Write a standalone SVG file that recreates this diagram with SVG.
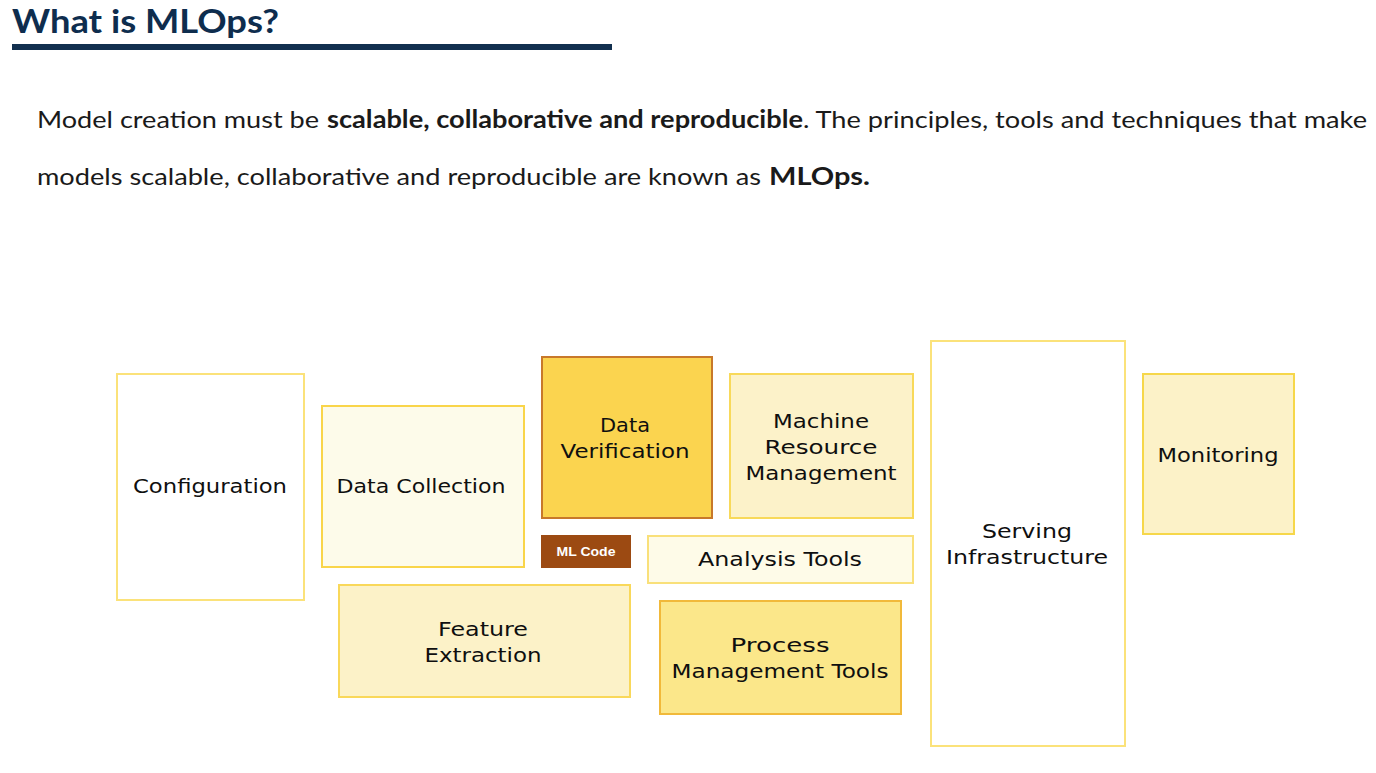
<svg xmlns="http://www.w3.org/2000/svg" width="1376" height="773" viewBox="0 0 1376 773">
<style>
.t{font-family:"DejaVu Sans","Liberation Sans",sans-serif;font-size:20px;fill:#0f0f0f;text-anchor:middle}
.p{font-family:Lato,"Open Sans",sans-serif;font-size:24px;fill:#1a1a1a}
.b{font-weight:bold}
rect{stroke-width:2}
</style>
<rect width="1376" height="773" fill="#ffffff" stroke="none"/>
<g id="title">
<text x="12" y="33" font-family="Lato,'Open Sans',sans-serif" font-weight="bold" font-size="32" fill="#0e2d4e" textLength="267" lengthAdjust="spacingAndGlyphs">What is MLOps?</text>
<rect x="12" y="44" width="600" height="6" fill="#12304f" stroke="none"/>
</g>
<g id="intro">
<text class="p" x="37" y="128" textLength="282" lengthAdjust="spacingAndGlyphs">Model creation must be</text>
<text class="p b" x="327" y="128" textLength="476" lengthAdjust="spacingAndGlyphs">scalable, collaborative and reproducible</text>
<text class="p" x="803" y="128" textLength="564" lengthAdjust="spacingAndGlyphs">. The principles, tools and techniques that make</text>
<text class="p" x="37" y="185" textLength="724" lengthAdjust="spacingAndGlyphs">models scalable, collaborative and reproducible are known as</text>
<text class="p b" x="769" y="185" font-size="27" textLength="101" lengthAdjust="spacingAndGlyphs">MLOps.</text>
</g>
<g id="connectors"></g>
<g id="configuration">
<rect x="117" y="374" width="187" height="226" fill="#ffffff" stroke="#fbe27a"/>
<text class="t" x="210" y="493" textLength="154" lengthAdjust="spacingAndGlyphs">Configuration</text>
</g>
<g id="data-collection">
<rect x="322" y="406" width="202" height="161" fill="#fdfbea" stroke="#f9d54a"/>
<text class="t" x="421" y="493" textLength="169" lengthAdjust="spacingAndGlyphs">Data Collection</text>
</g>
<g id="data-verification">
<rect x="542" y="357" width="170" height="161" fill="#fbd44f" stroke="#c8782a"/>
<text class="t" x="625" y="432" textLength="50" lengthAdjust="spacingAndGlyphs">Data</text>
<text class="t" x="625" y="458" textLength="129" lengthAdjust="spacingAndGlyphs">Verification</text>
</g>
<g id="machine-resource-management">
<rect x="730" y="374" width="183" height="144" fill="#fcf2c9" stroke="#f8d95a"/>
<text class="t" x="821" y="428" textLength="96" lengthAdjust="spacingAndGlyphs">Machine</text>
<text class="t" x="821" y="454" textLength="113" lengthAdjust="spacingAndGlyphs">Resource</text>
<text class="t" x="821" y="480" textLength="151" lengthAdjust="spacingAndGlyphs">Management</text>
</g>
<g id="ml-code">
<rect x="542" y="536" width="88" height="31" fill="#9c4a12" stroke="#9c4a12" stroke-width="1"/>
<text x="586" y="556" font-family="'Liberation Sans',Arial,sans-serif" font-weight="bold" font-size="12" fill="#ffffff" text-anchor="middle" textLength="59" lengthAdjust="spacingAndGlyphs">ML Code</text>
</g>
<g id="analysis-tools">
<rect x="648" y="536" width="265" height="47" fill="#fefbe8" stroke="#f9e07a"/>
<text class="t" x="780" y="566" textLength="164" lengthAdjust="spacingAndGlyphs">Analysis Tools</text>
</g>
<g id="feature-extraction">
<rect x="339" y="585" width="291" height="112" fill="#fcf2c8" stroke="#f9d85a"/>
<text class="t" x="483" y="636" textLength="90" lengthAdjust="spacingAndGlyphs">Feature</text>
<text class="t" x="483" y="662" textLength="117" lengthAdjust="spacingAndGlyphs">Extraction</text>
</g>
<g id="process-management-tools">
<rect x="660" y="601" width="241" height="113" fill="#fbe78a" stroke="#f1b93a"/>
<text class="t" x="780" y="652" textLength="99" lengthAdjust="spacingAndGlyphs">Process</text>
<text class="t" x="780" y="678" textLength="217" lengthAdjust="spacingAndGlyphs">Management Tools</text>
</g>
<g id="serving-infrastructure">
<rect x="931" y="341" width="194" height="405" fill="#ffffff" stroke="#fbe27a"/>
<text class="t" x="1027" y="538" textLength="90" lengthAdjust="spacingAndGlyphs">Serving</text>
<text class="t" x="1027" y="564" textLength="162" lengthAdjust="spacingAndGlyphs">Infrastructure</text>
</g>
<g id="monitoring">
<rect x="1143" y="374" width="151" height="160" fill="#fcf2c8" stroke="#f6d74a"/>
<text class="t" x="1218" y="462" textLength="121" lengthAdjust="spacingAndGlyphs">Monitoring</text>
</g>
</svg>
